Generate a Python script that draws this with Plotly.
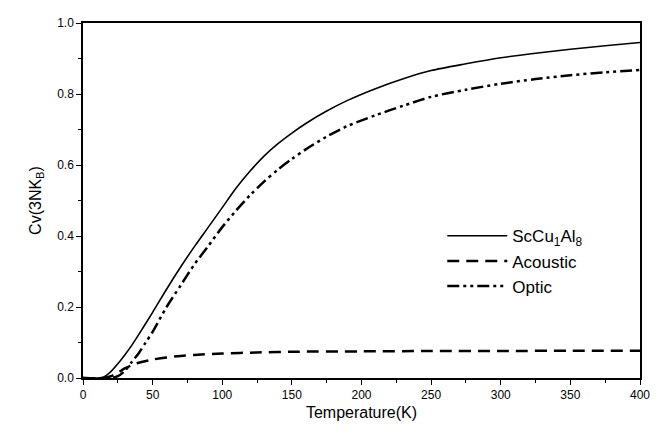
import plotly.graph_objects as go

T_total = [0, 10, 15, 20, 25, 30, 35, 40, 50, 60, 70, 80, 90, 100, 110, 120, 130, 140, 150, 160,
           175, 190, 210, 230, 250, 275, 300, 325, 350, 375, 400]
cv_total = [0, 0, 0.003, 0.018, 0.04, 0.065, 0.092, 0.122, 0.185, 0.25, 0.312, 0.37, 0.425, 0.48, 0.535,
            0.583, 0.625, 0.66, 0.69, 0.717, 0.752, 0.782, 0.815, 0.843, 0.866, 0.885, 0.902, 0.915,
            0.926, 0.936, 0.945]

T_acoustic = [0, 15, 20, 25, 30, 35, 40, 50, 60, 70, 80, 100, 125, 150, 200, 250, 300, 350, 400]
cv_acoustic = [0, 0, 0.005, 0.015, 0.027, 0.036, 0.043, 0.052, 0.058, 0.062, 0.065, 0.069, 0.072,
               0.074, 0.075, 0.076, 0.076, 0.077, 0.077]

T_optic = [0, 20, 25, 30, 35, 40, 45, 50, 60, 70, 80, 90, 100, 110, 120, 130, 140, 150, 160, 175,
           190, 210, 230, 250, 275, 300, 325, 350, 375, 400]
cv_optic = [0, 0, 0.005, 0.02, 0.045, 0.07, 0.1, 0.13, 0.2, 0.26, 0.32, 0.372, 0.425, 0.472, 0.515,
            0.553, 0.587, 0.617, 0.644, 0.68, 0.71, 0.74, 0.767, 0.792, 0.812, 0.829, 0.842, 0.853,
            0.861, 0.868]

x_ticks = [0, 50, 100, 150, 200, 250, 300, 350, 400]
y_ticks = [0.0, 0.2, 0.4, 0.6, 0.8, 1.0]

FONT = "Liberation Sans, Arial, sans-serif"

fig = go.Figure()
fig.add_trace(go.Scatter(x=T_total, y=cv_total, mode="lines", name="ScCu<sub>1</sub>Al<sub>8</sub>",
                         line=dict(color="black", width=1.6, shape="spline", smoothing=0.8)))
fig.add_trace(go.Scatter(x=T_acoustic, y=cv_acoustic, mode="lines", name="Acoustic",
                         line=dict(color="black", width=2.5, dash="12px,7px", shape="spline",
                                   smoothing=0.8)))
fig.add_trace(go.Scatter(x=T_optic, y=cv_optic, mode="lines", name="Optic",
                         line=dict(color="black", width=2.5, dash="12px,4px,3px,4px,3px,4px",
                                   shape="spline", smoothing=0.8)))

fig.update_layout(
    width=665, height=439,
    margin=dict(l=75, r=33, t=8, b=69),
    plot_bgcolor="white", paper_bgcolor="white",
    font=dict(family=FONT, color="black", size=12),
    showlegend=True,
    legend=dict(x=0.645, y=0.45, xanchor="left", yanchor="top", bgcolor="rgba(0,0,0,0)",
                font=dict(size=17, family=FONT), tracegroupgap=0, itemwidth=60),
)
fig.update_xaxes(
    range=[0, 400], tickvals=x_ticks, showline=True, linecolor="black", linewidth=1.5,
    mirror=True, ticks="outside", ticklen=5, tickcolor="black", showgrid=False, zeroline=False,
    minor=dict(dtick=25, tick0=0, ticks="outside", ticklen=3, tickcolor="black"),
    title=dict(text="Temperature(K)", font=dict(size=16), standoff=6),
    tickfont=dict(size=12),
)
fig.update_yaxes(
    range=[0, 1.0], tickvals=y_ticks, tickformat=".1f", showline=True, linecolor="black",
    linewidth=1.5, mirror=True, ticks="outside", ticklen=5, tickcolor="black", showgrid=False,
    zeroline=False,
    minor=dict(dtick=0.1, tick0=0, ticks="outside", ticklen=3, tickcolor="black"),
    title=dict(text="Cv(3NK<sub>B</sub>)", font=dict(size=16), standoff=12),
    tickfont=dict(size=12),
)

fig.write_html("out.html")
